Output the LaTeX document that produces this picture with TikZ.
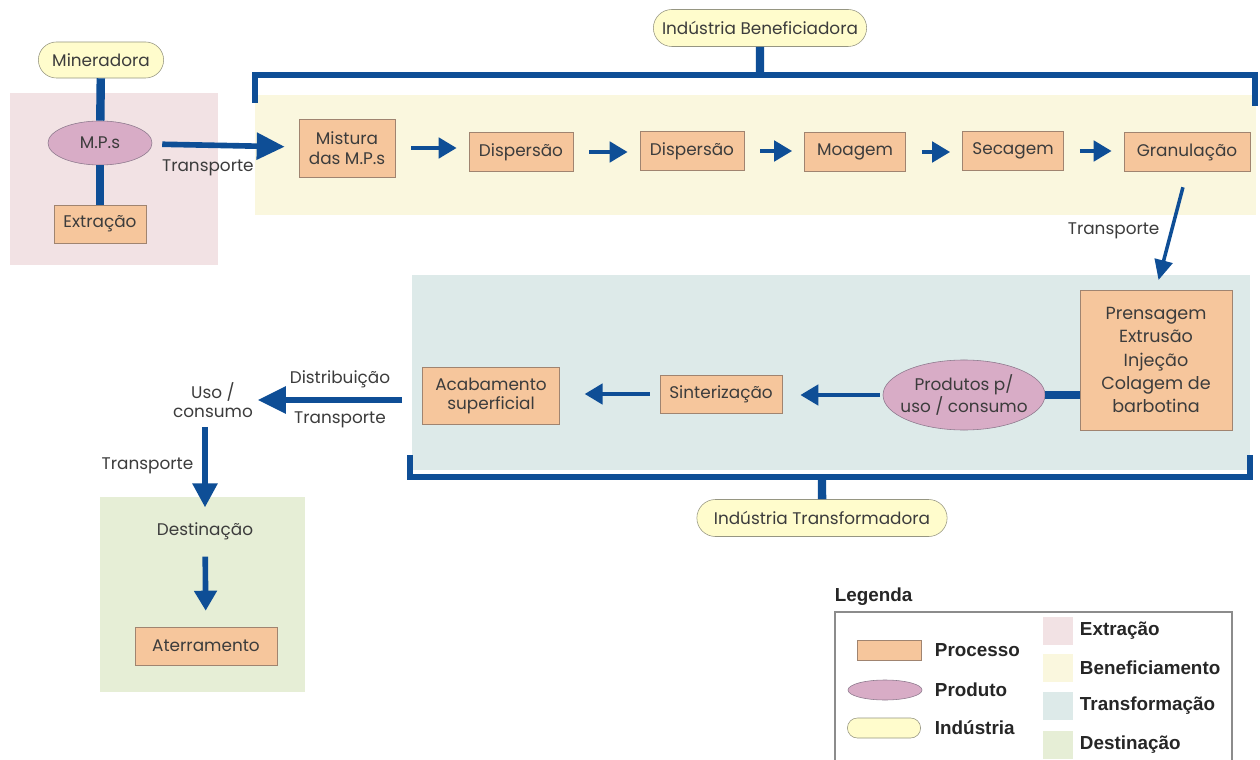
\documentclass[tikz,border=0pt]{standalone}
\usepackage{fontspec}
\setmainfont{Poppins}
\newfontfamily\legendfont{Liberation Sans}
\usetikzlibrary{arrows.meta,positioning,shapes.geometric,shapes.misc}

\definecolor{flowblue}{RGB}{14,78,150}
\definecolor{procfill}{RGB}{246,198,156}
\definecolor{procedge}{RGB}{160,132,112}
\definecolor{prodfill}{RGB}{216,172,198}
\definecolor{prodedge}{RGB}{140,120,140}
\definecolor{indfill}{RGB}{255,252,204}
\definecolor{indedge}{RGB}{150,150,130}
\definecolor{txtgray}{RGB}{60,60,60}
\definecolor{zextr}{RGB}{242,226,228}
\definecolor{zbenef}{RGB}{250,247,222}
\definecolor{ztransf}{RGB}{221,234,233}
\definecolor{zdest}{RGB}{230,238,214}

\tikzset{
  procbox/.style={draw=procedge, fill=procfill, inner sep=1pt, align=center},
  product/.style={ellipse, draw=prodedge, fill=prodfill, inner sep=0pt, align=center},
  industry/.style={rounded rectangle, draw=indedge, fill=indfill, inner sep=1pt},
  flow/.style={flowblue, line width=3.5pt, -{Triangle[length=0.45cm,width=0.5cm]}},
  bigflow/.style={flowblue, line width=4pt, -{Triangle[length=0.7cm,width=0.65cm]}},
  link/.style={flowblue, line width=6pt},
  bracket/.style={flowblue, line width=4.5pt, line join=miter},
  flowlabel/.style={text=txtgray},
  legtext/.style={font=\legendfont\bfseries\fontsize{13.4}{15}\selectfont, text=black!85, anchor=west}
}

\begin{document}
\begin{tikzpicture}[x=0.025cm,y=-0.025cm,font=\fontsize{12}{14}\selectfont,text=txtgray]
  \clip (0,0) rectangle (1260,760);
  \fill[white] (0,0) rectangle (1260,760);
  % zones
  \fill[zextr] (10,93) rectangle (218,265);
  \fill[zbenef] (255,95) rectangle (1256,215);
  \fill[ztransf] (412,275) rectangle (1250,470);
  \fill[zdest] (100,497) rectangle (305,692);

  % brackets
  \draw[bracket] (255,103) -- (255,75) -- (1255,75) -- (1255,106);
  \draw[bracket] (410,455) -- (410,477) -- (1250,477) -- (1250,455);
  \coordinate (btop) at (760,75);
  \coordinate (bbot) at (822,477);

  % extracao
  \node[industry, minimum width=3.2cm, minimum height=0.9cm] (miner) at (101,60) {Mineradora};
  \node[product, minimum width=2.6cm, minimum height=1.1cm] (mps) at (100,143) {M.P.s};
  \node[procbox, minimum width=2.3cm, minimum height=0.95cm] (extr) at (100,224) {Extração};
  \draw[link] (miner) -- (mps);
  \draw[link] (mps) -- (extr);

  % beneficiamento
  \node[industry, minimum width=5.4cm, minimum height=0.925cm] (indb) at (760,28) {Indústria Beneficiadora};
  \draw[link] (indb) -- (btop);
  \node[procbox, minimum width=2.4cm, minimum height=1.45cm] (mist) at (347,148) {Mistura\\das M.P.s};
  \node[procbox, minimum width=2.6cm, minimum height=0.975cm] (disp1) at (521,152) {Dispersão};
  \node[procbox, minimum width=2.6cm, minimum height=0.975cm] (disp2) at (692,151) {Dispersão};
  \node[procbox, minimum width=2.525cm, minimum height=0.975cm] (moag) at (855,152) {Moagem};
  \node[procbox, minimum width=2.525cm, minimum height=0.975cm] (sec) at (1013,151) {Secagem};
  \node[procbox, minimum width=3.15cm, minimum height=0.975cm] (gran) at (1187,152) {Granulação};
  \draw[bigflow, shorten <=0.25cm, shorten >=0.35cm] (mps) -- node[flowlabel, pos=0.38, below=5pt] {Transporte} (mist);
  \foreach \a/\b in {mist/disp1,disp1/disp2,disp2/moag,moag/sec,sec/gran}
    \draw[flow, shorten <=0.4cm, shorten >=0.3cm] (\a.east) -- (\b.west |- \a.east);

  % transformacao
  \node[procbox, minimum width=3.8cm, minimum height=3.5cm, font=\fontsize{12.5}{16.5}\selectfont] (pren) at (1156,360)
    {Prensagem\\Extrusão\\Injeção\\Colagem de\\barbotina};
  \draw[flowblue, line width=2.5pt, -{Triangle[length=0.5cm,width=0.45cm]}, shorten <=0.4cm, shorten >=0.25cm]
    (gran.south) -- node[flowlabel, left=4pt] {Transporte} (pren.north);
  \node[product, inner xsep=-0.45cm, minimum width=4.05cm, minimum height=1.75cm] (prod) at (964,395) {Produtos p/\\uso / consumo};
  \draw[link] (prod.east) -- (prod.east -| pren.west);
  \node[procbox, minimum width=3.05cm, minimum height=0.95cm] (sint) at (721,394) {Sinterização};
  \node[procbox, minimum width=3.425cm, minimum height=1.425cm] (acab) at (491,396) {Acabamento\\superficial};
  \draw[flow, shorten <=0.08cm, shorten >=0.45cm] (prod.west) -- (prod.west -| sint.east);
  \draw[flow, shorten <=0.25cm, shorten >=0.62cm] (sint.west) -- (sint.west -| acab.east);
  \node[industry, minimum width=6.325cm, minimum height=0.925cm] (indt) at (822,518) {Indústria Transformadora};
  \draw[link] (indt) -- (bbot);

  % uso e destinacao
  \node[align=center] (uso) at (213,400) {Uso /\\consumo};
  \draw[bigflow, shorten <=0.5cm] (acab.west |- uso) --
    node[flowlabel, above=3pt] {Distribuição} node[flowlabel, below=3pt] {Transporte} (uso.east);
  \node (dest) at (205,531) {Destinação};
  \draw[flow, line width=4pt, -{Triangle[length=0.6cm,width=0.6cm]}, shorten <=0.1cm, shorten >=0.25cm]
    (uso.south -| dest) -- node[flowlabel, left=3pt, pos=0.45] {Transporte} (dest.north);
  \node[procbox, minimum width=3.55cm, minimum height=0.95cm] (ater) at (206,646) {Aterramento};
  \draw[flow, line width=4pt, -{Triangle[length=0.5cm,width=0.55cm]}, shorten <=0.3cm, shorten >=0.4cm]
    (dest) -- (ater);

  % legenda
  \node[legtext] (legtitle) at (830,597) {Legenda};
  \draw[black!45, line width=0.8pt] (835,612) rectangle (1232,790);
  \node[procbox, minimum width=1.6cm, minimum height=0.5cm] (lgproc) at (889,650) {};
  \node[product, minimum width=1.85cm, minimum height=0.5cm] (lgprod) at (885,690) {};
  \node[industry, minimum width=1.9cm, minimum height=0.5cm] (lgind) at (884,728) {};
  \node[legtext] at (930,650) {Processo};
  \node[legtext] at (930,690) {Produto};
  \node[legtext] at (930,728) {Indústria};
  \foreach \c/\t/\y in {zextr/Extração/631,zbenef/Beneficiamento/668,ztransf/Transformação/706,zdest/Destinação/745}{
    \fill[\c] (1043,\y-14) rectangle (1073,\y+14);
    \node[legtext] at (1075,\y) {\t};
  }
\end{tikzpicture}
\end{document}
